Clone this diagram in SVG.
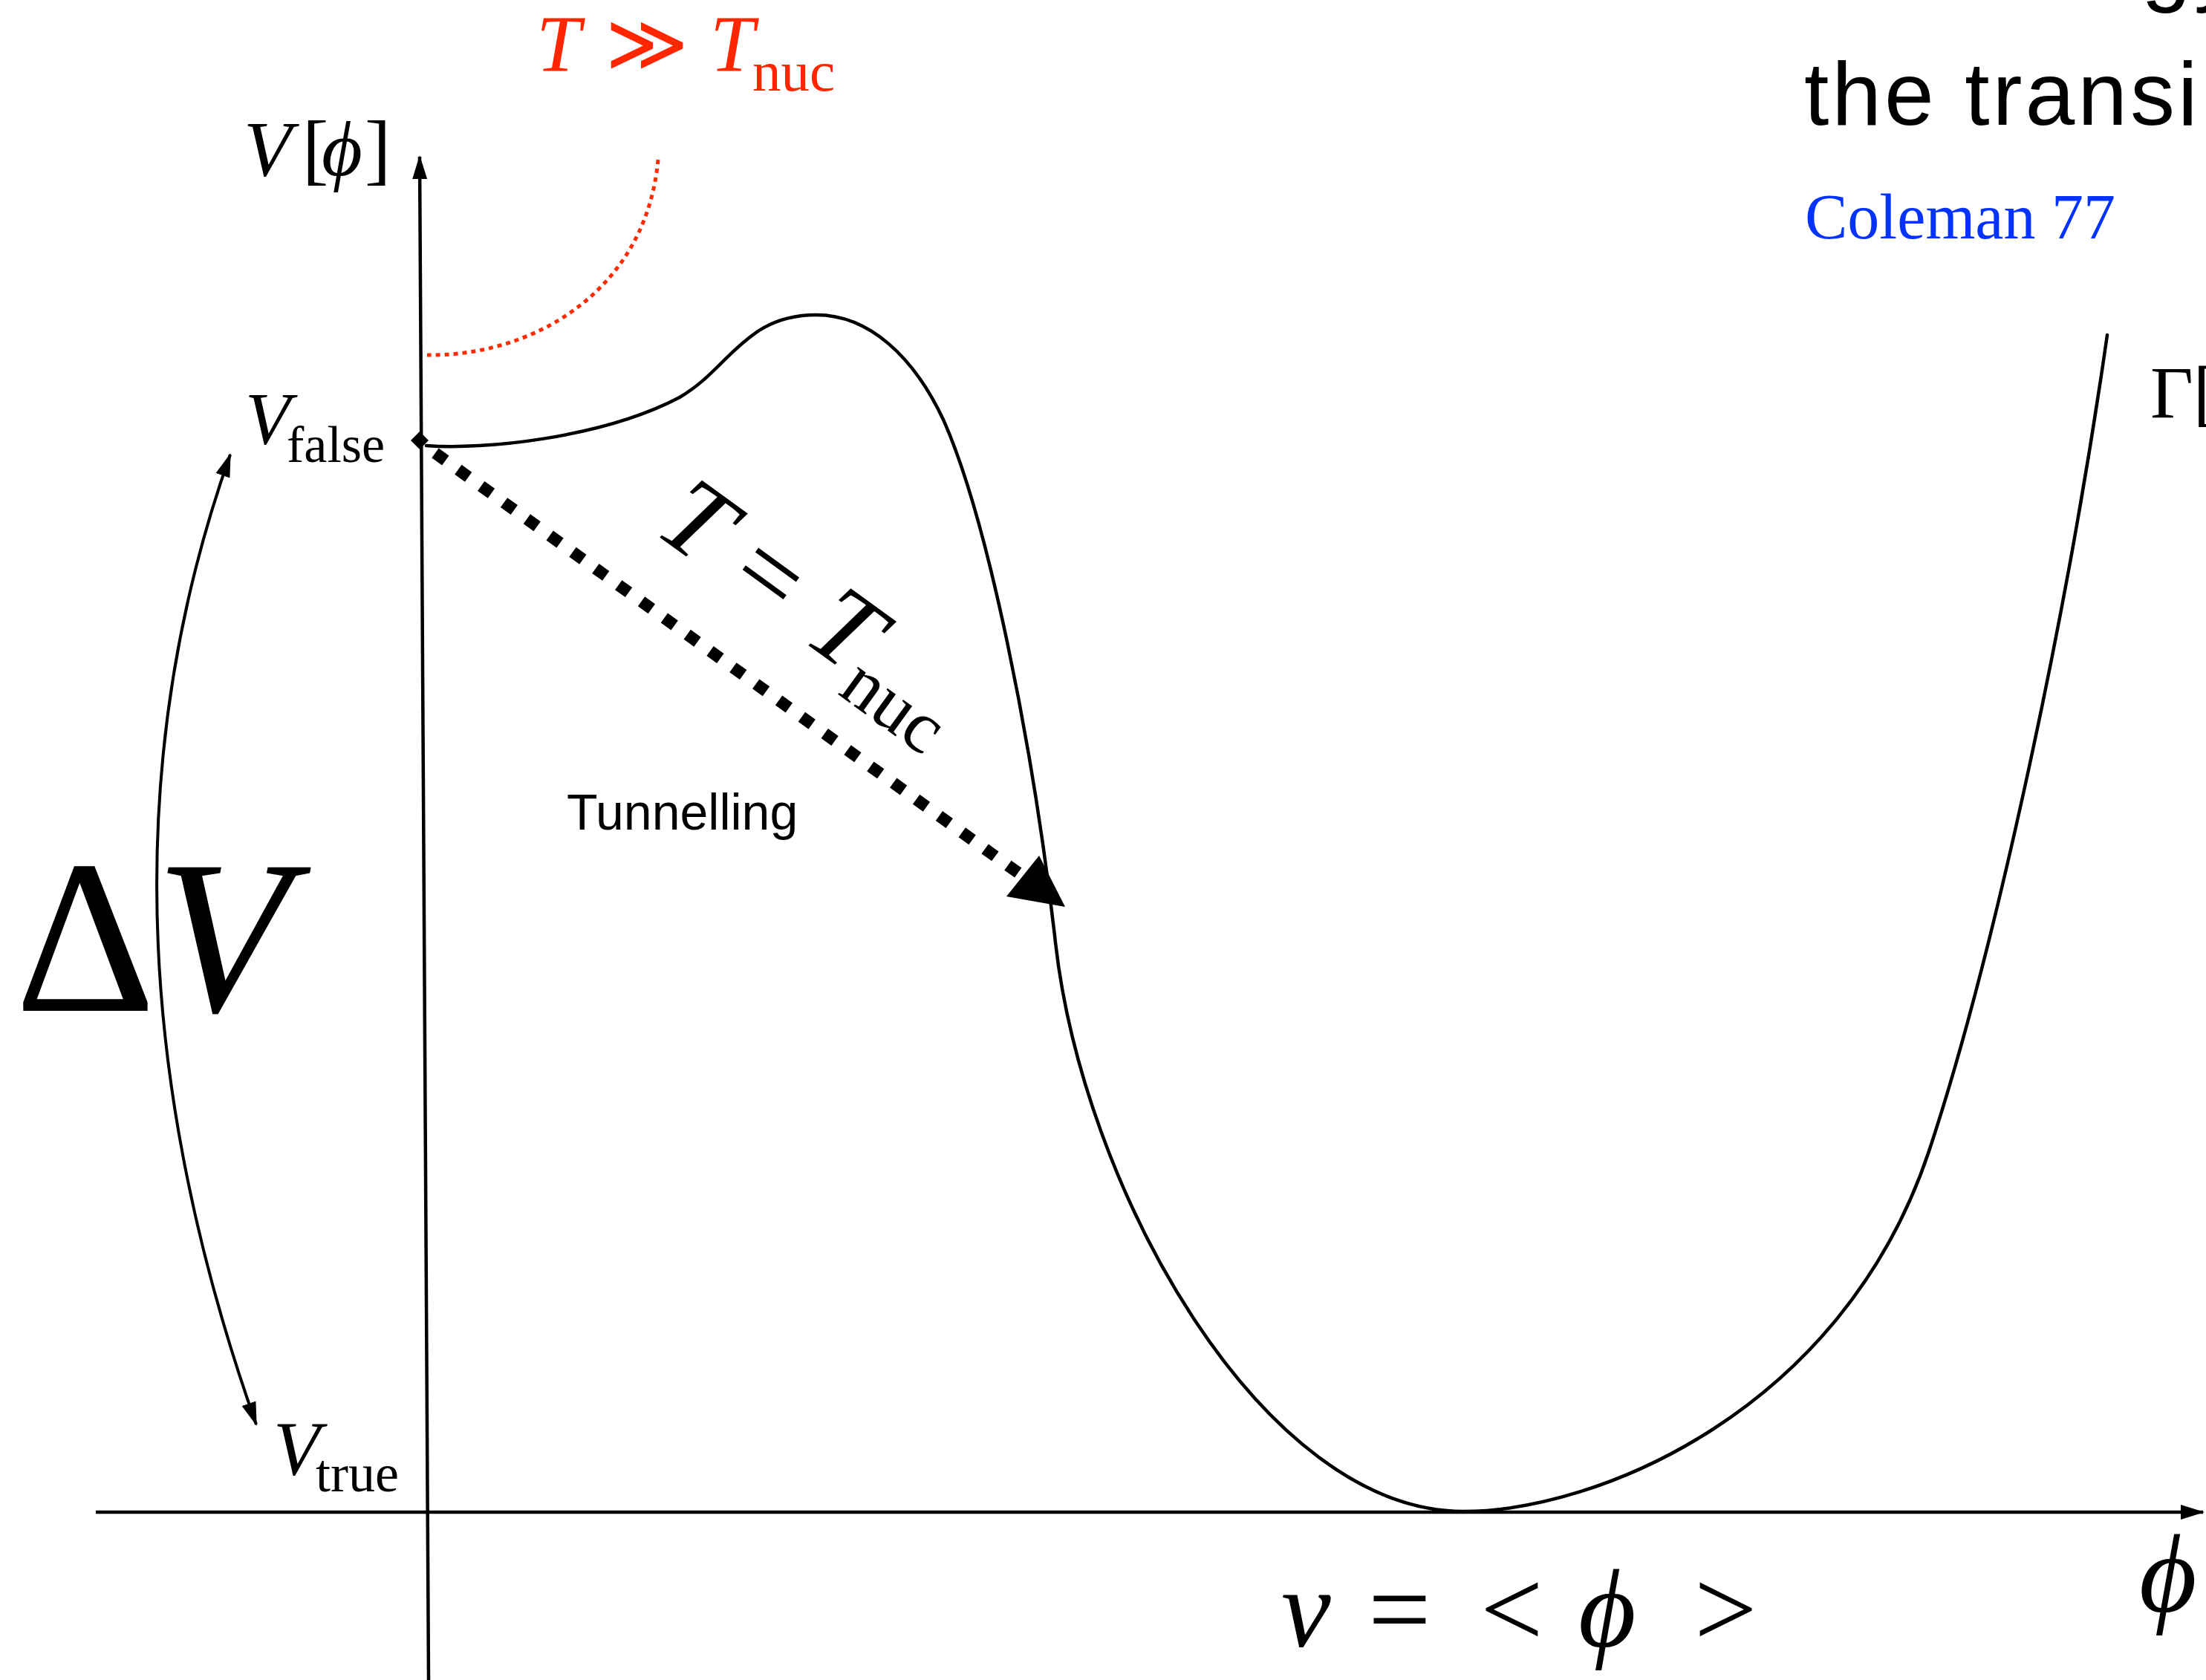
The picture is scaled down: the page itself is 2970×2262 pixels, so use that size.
<svg xmlns="http://www.w3.org/2000/svg" width="2970" height="2262" viewBox="0 0 2970 2262">
<style>
.serif{font-family:"Liberation Serif","DejaVu Serif",serif;}
.sans{font-family:"Liberation Sans","DejaVu Sans",sans-serif;}
.it{font-style:italic;}
.ax{fill:none;stroke:#000;stroke-width:4.5;}
.curve{fill:none;stroke:#000;stroke-width:4.5;stroke-linecap:round;}
</style>
<defs>
<marker id="arr" markerUnits="userSpaceOnUse" markerWidth="34" markerHeight="24" refX="30" refY="12" orient="auto">
<path d="M0,2 L32,12 L0,22 z" fill="#000"/>
</marker>
<marker id="arrS" markerUnits="userSpaceOnUse" markerWidth="34" markerHeight="24" refX="30" refY="12" orient="auto-start-reverse">
<path d="M0,2 L32,12 L0,22 z" fill="#000"/>
</marker>
</defs>
<rect width="2970" height="2262" fill="#fff"/>

<g id="connectors">
<line id="x-axis" class="ax" x1="129" y1="2036" x2="2966" y2="2036" marker-end="url(#arr)"/>
<line id="y-axis" class="ax" x1="577" y1="2262" x2="565" y2="211" marker-end="url(#arr)"/>
<path id="delta-arc" d="M310,612 Q96,1215 345,1918" fill="none" stroke="#000" stroke-width="4" marker-start="url(#arrS)" marker-end="url(#arr)"/>
<path id="potential" class="curve" d="M574,600 C650,606 810,590 915,535 C940,520 955,505 975,485 C1010,450 1040,424 1099,424 C1170,424 1230,480 1270,565 C1330,700 1390,1000 1420,1260 C1455,1600 1700,2035 1970,2035 C2150,2035 2480,1900 2597,1550 C2680,1300 2780,850 2837,451"/>
<path id="high-T" d="M886,215 C870,390 720,480 575,478" fill="none" stroke="#ff2a00" stroke-width="5" stroke-dasharray="6 6"/>
<line id="tunnel" x1="586" y1="610" x2="1372" y2="1176" stroke="#000" stroke-width="16" stroke-dasharray="17 21"/>
<path id="tunnel-head" d="M1434,1221 L1399,1152 L1355,1207 z" fill="#000"/>
<path id="false-dot" d="M565,581 L577,593 L565,605 L553,593 z" fill="#000"/>
</g>

<g id="label-Vphi" class="serif" font-size="106">
<text x="328" y="236"><tspan class="it">V</tspan><tspan x="407">[</tspan><tspan x="433" class="it">ϕ</tspan><tspan x="491">]</tspan></text>
</g>
<g id="label-Vfalse" class="serif">
<text x="330" y="597" font-size="100" class="it">V</text>
<text x="386" y="622" font-size="70">false</text>
</g>
<g id="label-Vtrue" class="serif">
<text x="368" y="1985" font-size="103" class="it">V</text>
<text x="425" y="2008" font-size="72">true</text>
</g>
<g id="label-deltaV" class="serif" font-size="295">
<text x="20" y="1361">Δ<tspan x="210" class="it">V</tspan></text>
</g>
<g id="label-highT" class="serif" fill="#ff2600">
<text x="722" y="95" font-size="107"><tspan class="it">T</tspan><tspan x="815">≫</tspan><tspan x="956" class="it">T</tspan></text>
<text x="1013" y="122" font-size="77">nuc</text>
</g>
<g id="label-Tnuc" class="serif">
<text transform="translate(878,716) rotate(36)" font-size="146"><tspan class="it">T</tspan><tspan dx="40">=</tspan><tspan dx="44" class="it">T</tspan><tspan font-size="100" dy="30">nuc</tspan></text>
</g>
<g id="label-tunnelling" class="sans">
<text x="763" y="1117" font-size="68">Tunnelling</text>
</g>
<g id="label-vev" class="serif" font-size="150">
<text x="1725" y="2217" class="it">v</text>
<text x="1842" y="2217">=</text>
<text x="1993" y="2217">&lt;</text>
<text x="2125" y="2217" class="it">ϕ</text>
<text x="2281" y="2217">&gt;</text>
</g>
<g id="label-phi" class="serif" font-size="150">
<text x="2880" y="2170" class="it">ϕ</text>
</g>
<g id="label-gamma" class="serif" font-size="100">
<text x="2895" y="562">Γ[</text>
</g>
<g id="title" class="sans" font-size="120" letter-spacing="4">
<text x="2883" y="-7">gy</text>
<text x="2429" y="168">the transi</text>
</g>
<g id="ref" class="serif" font-size="86" fill="#0433ff">
<text x="2430" y="321">Coleman 77</text>
</g>
</svg>
